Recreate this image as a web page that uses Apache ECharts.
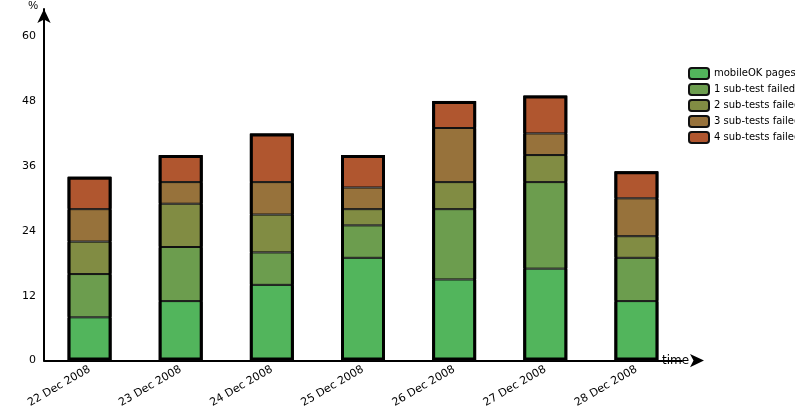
<!DOCTYPE html><html><head><meta charset="utf-8"><script src="https://cdn.jsdelivr.net/npm/echarts@6/dist/echarts.min.js"></script></head><body style="margin:0"><div id="c" style="width:795px;height:410px"></div><script>
const categories=['22 Dec 2008','23 Dec 2008','24 Dec 2008','25 Dec 2008','26 Dec 2008','27 Dec 2008','28 Dec 2008'];
const names=['mobileOK pages','1 sub-test failed','2 sub-tests failed','3 sub-tests failed','4 sub-tests failed'];
const mobileOK=[8,11,14,19,15,17,11];
const fail1=[8,10,6,6,13,16,8];
const fail2=[6,8,7,3,5,5,4];
const fail3=[6,4,6,4,10,4,7];
const fail4=[6,5,9,6,5,7,5];
const yTicks=[12,24,36,48,60];
const colors=['#52b55c','#6c9d4e','#818c43','#97723b','#b0562f'];
const all=[mobileOK,fail1,fail2,fail3,fail4];
const totals=categories.map((_,i)=>all.reduce((s,a)=>s+a[i],0));
const series=all.map((d,k)=>({name:names[k],type:'bar',stack:'s',data:d,barWidth:44,
 itemStyle:{color:colors[k],borderColor:'#111',borderWidth:1}}));
series.push({name:'total',type:'bar',data:totals,barWidth:44,barGap:'-100%',z:5,silent:true,
 itemStyle:{color:'transparent',borderColor:'#000',borderWidth:3},
 markLine:{silent:true,symbol:'none',label:{show:false},lineStyle:{color:'#888',type:[12,6],width:1},
  data:yTicks.map(v=>[{coord:[-0.55,v]},{coord:[6.2,v]}])}});
echarts.init(document.getElementById('c')).setOption({
 animation:false,
 grid:{left:44,right:113,top:7,bottom:47},
 legend:{orient:'vertical',left:683,top:62,itemWidth:20,itemHeight:11,itemGap:3,icon:'roundRect',
  data:names,textStyle:{fontSize:10,fontFamily:'DejaVu Sans',color:'#000'}},
 xAxis:{type:'category',data:categories,name:'time',nameLocation:'end',nameGap:-20,
  nameTextStyle:{fontSize:12,fontFamily:'DejaVu Sans',color:'#000',padding:[40,0,0,0]},
  axisLine:{symbol:['none','arrow'],symbolSize:[10,14],symbolOffset:[0,22],lineStyle:{color:'#000',width:2}},
  axisTick:{show:false},axisLabel:{rotate:30,fontSize:11,fontFamily:'DejaVu Sans',color:'#000',margin:8}},
 yAxis:{type:'value',min:0,max:65,interval:12,name:'%',nameGap:-2,
  nameTextStyle:{fontSize:11,color:'#000',align:'right',padding:[0,6,0,0]},
  axisLine:{show:true,symbol:['none','arrow'],symbolSize:[10,14],lineStyle:{color:'#000',width:2}},
  axisTick:{show:false},splitLine:{show:false},
  axisLabel:{fontSize:11,fontFamily:'DejaVu Sans',color:'#000',formatter:v=>v%12===0?v:''}},
 series});
</script></body></html>
